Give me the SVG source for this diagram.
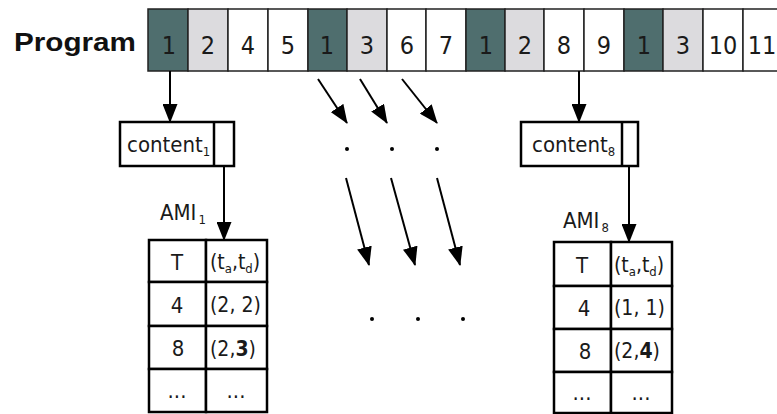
<svg xmlns="http://www.w3.org/2000/svg" width="777" height="414" viewBox="0 0 777 414">
<style>
text{font-family:"Liberation Sans Narrow","DejaVu Sans Condensed","Liberation Sans",Arial,sans-serif;fill:#1a1a1a}
.prog{font-family:"Liberation Sans",Arial,sans-serif;fill:#111}
.cell{stroke:#222;stroke-width:1.5}
.d{fill:#4f6e6e}.g{fill:#dcdbde}.w{fill:#fff}
.num{font-size:25px;text-anchor:middle}
.box{fill:#fff;stroke:#000;stroke-width:2.5}
.ln{stroke:#000;stroke-width:2;fill:none;marker-end:url(#ah)}
.lbl{font-size:22px}
.tt{font-size:22px;text-anchor:middle}
.sub{font-size:13px}
.dot{fill:#000}
</style>
<defs>
<marker id="ah" markerWidth="19" markerHeight="15" refX="18" refY="7.5" orient="auto" markerUnits="userSpaceOnUse">
<path d="M0,0 L19,7.5 L0,15 z" fill="#000"/>
</marker>
</defs>
<g id="program">
<text x="14" y="51" class="prog" font-size="26" font-weight="bold" textLength="122" lengthAdjust="spacingAndGlyphs">Program</text>
<g id="cells">
<rect class="cell d" x="148" y="9" width="40" height="62"/>
<rect class="cell g" x="188" y="9" width="40" height="62"/>
<rect class="cell w" x="228" y="9" width="40" height="62"/>
<rect class="cell w" x="268" y="9" width="40" height="62"/>
<rect class="cell d" x="308" y="9" width="39" height="62"/>
<rect class="cell g" x="347" y="9" width="40" height="62"/>
<rect class="cell w" x="387" y="9" width="39" height="62"/>
<rect class="cell w" x="426" y="9" width="40" height="62"/>
<rect class="cell d" x="466" y="9" width="39" height="62"/>
<rect class="cell g" x="505" y="9" width="39" height="62"/>
<rect class="cell w" x="544" y="9" width="40" height="62"/>
<rect class="cell w" x="584" y="9" width="40" height="62"/>
<rect class="cell d" x="624" y="9" width="39" height="62"/>
<rect class="cell g" x="663" y="9" width="40" height="62"/>
<rect class="cell w" x="703" y="9" width="40" height="62"/>
<rect class="cell w" x="743" y="9" width="40" height="62"/>
</g>
<g>
<text x="169" y="54" class="num">1</text>
<text x="208" y="54" class="num">2</text>
<text x="248" y="54" class="num">4</text>
<text x="288" y="54" class="num">5</text>
<text x="327" y="54" class="num">1</text>
<text x="367" y="54" class="num">3</text>
<text x="407" y="54" class="num">6</text>
<text x="446" y="54" class="num">7</text>
<text x="486" y="54" class="num">1</text>
<text x="525" y="54" class="num">2</text>
<text x="564" y="54" class="num">8</text>
<text x="604" y="54" class="num">9</text>
<text x="644" y="54" class="num">1</text>
<text x="683" y="54" class="num">3</text>
<text x="723" y="54" class="num">10</text>
<text x="762" y="54" class="num">11</text>
</g>
</g>
<g id="content1">
<rect class="box" x="120" y="122" width="114" height="44"/>
<line x1="214" y1="122" x2="214" y2="166" stroke="#000" stroke-width="2.5"/>
<text x="127" y="152" class="lbl">content<tspan class="sub" dy="4">1</tspan></text>
</g>
<g id="content8">
<rect class="box" x="521" y="122" width="117" height="44"/>
<line x1="622" y1="122" x2="622" y2="166" stroke="#000" stroke-width="2.5"/>
<text x="532" y="152" class="lbl">content<tspan class="sub" dy="4">8</tspan></text>
</g>
<g id="ami1-label"><text x="160" y="220" class="lbl">AMI<tspan class="sub" dy="4" dx="2">1</tspan></text></g>
<g id="ami8-label"><text x="563" y="228" class="lbl">AMI<tspan class="sub" dy="4" dx="2">8</tspan></text></g>
<g id="table1">
<g fill="#fff" stroke="#000" stroke-width="2.5">
<rect x="149" y="240" width="57" height="42"/><rect x="206" y="240" width="61" height="42"/>
<rect x="149" y="282" width="57" height="44"/><rect x="206" y="282" width="61" height="44"/>
<rect x="149" y="326" width="57" height="43"/><rect x="206" y="326" width="61" height="43"/>
<rect x="149" y="369" width="57" height="43"/><rect x="206" y="369" width="61" height="43"/>
</g>
<text x="177" y="270" class="tt">T</text>
<text x="177" y="313" class="tt">4</text>
<text x="178" y="356" class="tt">8</text>
<text x="177" y="398" class="tt">...</text>
<text x="210" y="269" font-size="21">(t<tspan class="sub" dy="4">a</tspan><tspan dy="-4">,t</tspan><tspan class="sub" dy="4">d</tspan><tspan dy="-4">)</tspan></text>
<text x="210" y="312" font-size="21">(2, 2)</text>
<text x="210" y="356" font-size="21">(2,<tspan font-weight="bold">3</tspan>)</text>
<text x="236" y="398" class="tt">...</text>
</g>
<g id="table8">
<g fill="#fff" stroke="#000" stroke-width="2.5">
<rect x="554" y="242" width="57" height="44"/><rect x="611" y="242" width="61" height="44"/>
<rect x="554" y="286" width="57" height="43"/><rect x="611" y="286" width="61" height="43"/>
<rect x="554" y="329" width="57" height="43"/><rect x="611" y="329" width="61" height="43"/>
<rect x="554" y="372" width="57" height="41"/><rect x="611" y="372" width="61" height="41"/>
</g>
<text x="582" y="273" class="tt">T</text>
<text x="584" y="316" class="tt">4</text>
<text x="585" y="359" class="tt">8</text>
<text x="582" y="400" class="tt">...</text>
<text x="614" y="272" font-size="21">(t<tspan class="sub" dy="4">a</tspan><tspan dy="-4">,t</tspan><tspan class="sub" dy="4">d</tspan><tspan dy="-4">)</tspan></text>
<text x="614" y="315" font-size="21">(1, 1)</text>
<text x="614" y="358" font-size="21">(2,<tspan font-weight="bold">4</tspan>)</text>
<text x="641" y="400" class="tt">...</text>
</g>
<g id="connectors">
<line class="ln" x1="170" y1="71" x2="170" y2="122"/>
<line class="ln" x1="579" y1="71" x2="579" y2="122"/>
<line class="ln" x1="224" y1="166" x2="224" y2="240"/>
<line class="ln" x1="629" y1="166" x2="629" y2="242"/>
<line class="ln" x1="318" y1="79" x2="347" y2="123"/>
<line class="ln" x1="360" y1="79" x2="387" y2="123"/>
<line class="ln" x1="402" y1="79" x2="437" y2="123"/>
<line class="ln" x1="346" y1="178" x2="369" y2="265"/>
<line class="ln" x1="391" y1="178" x2="415" y2="265"/>
<line class="ln" x1="437" y1="178" x2="460" y2="265"/>
</g>
<g id="dots">
<circle class="dot" cx="347" cy="149" r="2"/>
<circle class="dot" cx="392" cy="149" r="2"/>
<circle class="dot" cx="437" cy="149" r="2"/>
<circle class="dot" cx="372" cy="319" r="2"/>
<circle class="dot" cx="418" cy="319" r="2"/>
<circle class="dot" cx="463" cy="319" r="2"/>
</g>
</svg>
